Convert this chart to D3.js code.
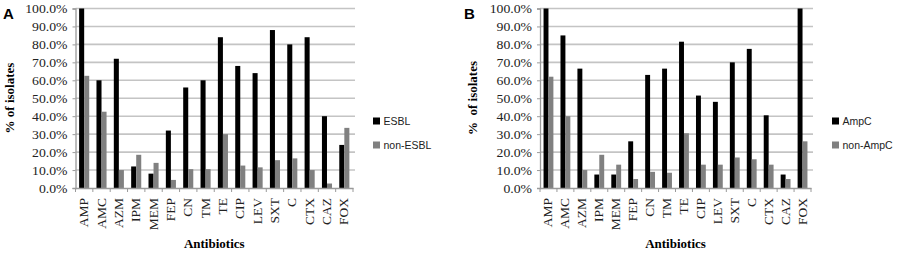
<!DOCTYPE html>
<html><head><meta charset="utf-8">
<script src="https://cdn.jsdelivr.net/npm/d3@7"></script>
<style>body{margin:0;background:#fff}svg{display:block}
.serif{font-family:"Times New Roman","Liberation Serif",Times,serif}
.sans{font-family:"Liberation Sans",Arial,sans-serif}</style>
</head><body>
<svg id="c" width="900" height="253"></svg>
<script>
const antibiotics = ["AMP","AMC","AZM","IPM","MEM","FEP","CN","TM","TE","CIP","LEV","SXT","C","CTX","CAZ","FOX"];
const esbl    = [100, 60, 72, 12, 8, 32, 56, 60, 84, 68, 64, 88, 80, 84, 40, 24];
const nonEsbl = [62.5, 42.5, 10, 18.5, 14, 4.5, 10.5, 10.5, 30, 12.5, 11.5, 15.5, 16.5, 10, 2.5, 33.5];
const ampc    = [100, 85, 66.5, 7.5, 7.5, 26, 63, 66.5, 81.5, 51.5, 48, 70, 77.5, 40.5, 7.5, 100];
const nonAmpc = [62, 40, 10, 18.5, 13, 5, 9, 8.5, 30.5, 13, 13, 17, 16, 13, 5, 26];
const yTicks = [0,10,20,30,40,50,60,70,80,90,100];
const panelA = {letter:"A", series:["ESBL","non-ESBL"], values:[esbl, nonEsbl], yTitle:"% of isolates"};
const panelB = {letter:"B", series:["AmpC","non-AmpC"], values:[ampc, nonAmpc], yTitle:"%  of isolates"};

const svg = d3.select("#c");
const colors = ["#000000", "#808080"];

function drawPanel(p, L) {
  const g = svg.append("g");
  const x = d3.scaleBand().domain(antibiotics).range([L.x0, L.x1]).padding(0);
  const xs = d3.scaleBand().domain(p.series).range([0, x.bandwidth()]).paddingOuter(0.72).paddingInner(0);
  const y = d3.scaleLinear().domain([0, 100]).range([188, 8.5]);

  g.append("g").selectAll("line").data(yTicks.filter(t => t > 0)).join("line")
    .attr("x1", L.x0).attr("x2", L.x1 + 2)
    .attr("y1", d => y(d)).attr("y2", d => y(d))
    .attr("stroke", "#c4c4c4").attr("stroke-width", 1.6);

  const ya = g.append("g").attr("transform", `translate(${L.x0},0)`)
    .call(d3.axisLeft(y).tickValues(yTicks).tickSize(3).tickPadding(8).tickFormat(d => d.toFixed(1) + "%"));
  ya.attr("font-family", null);
  ya.select(".domain").attr("stroke", "#9a9a9a").attr("stroke-width", 1.3);
  ya.selectAll(".tick line").attr("stroke", "#9a9a9a");
  ya.selectAll(".tick text").attr("class", "serif")
    .attr("font-size", 12.5).attr("fill", "#222").attr("transform", "scale(1.1,1)")
    .attr("x", -8 / 1.1);

  p.series.forEach((s, si) => {
    g.append("g").selectAll("rect").data(p.values[si]).join("rect")
      .attr("x", (d, i) => x(antibiotics[i]) + xs(s))
      .attr("width", xs.bandwidth())
      .attr("y", d => y(d))
      .attr("height", d => y(0) - y(d))
      .attr("fill", colors[si]);
  });

  const xa = g.append("g").attr("transform", "translate(0,188)")
    .call(d3.axisBottom(x).tickSize(0).tickPadding(0));
  xa.attr("font-family", null);
  xa.select(".domain").attr("stroke", "#9a9a9a").attr("stroke-width", 1.3);
  xa.selectAll(".tick text").attr("class", "serif")
    .attr("font-size", 13.5).attr("fill", "#222")
    .attr("text-anchor", "end").attr("transform", "translate(4,10) rotate(-90)").attr("dy", 0).attr("y", 0);
  g.append("g").selectAll("line").data(d3.range(antibiotics.length + 1)).join("line")
    .attr("x1", i => L.x0 + i * x.step()).attr("x2", i => L.x0 + i * x.step())
    .attr("y1", 188).attr("y2", 192).attr("stroke", "#9a9a9a");

  g.append("text").attr("class", "serif").attr("transform", `translate(${L.yt},98) rotate(-90)`).attr("text-anchor", "middle")
    .attr("font-weight", "bold").attr("font-size", 13).style("white-space", "pre").text(p.yTitle);
  g.append("text").attr("class", "serif").attr("x", (L.x0 + L.x1) / 2).attr("y", 248).attr("text-anchor", "middle")
    .attr("font-weight", "bold").attr("font-size", 13).text("Antibiotics");

  g.append("text").attr("class", "sans").attr("x", L.lx).attr("y", 19)
    .attr("font-weight", "bold").attr("font-size", 15).text(p.letter);

  const lg = g.append("g").selectAll("g").data(p.series).join("g")
    .attr("transform", (d, i) => `translate(${L.legX},${121 + i * 24})`);
  lg.append("rect").attr("x", 0).attr("y", -3.5).attr("width", 7).attr("height", 7).attr("fill", (d, i) => colors[i]);
  lg.append("text").attr("class", "sans").attr("x", 10.5).attr("y", 4)
    .attr("font-size", 10.5).attr("fill", "#222").text(d => d);
}

drawPanel(panelA, {x0: 75.5, x1: 353, yt: 14, lx: 3, legX: 373});
drawPanel(panelB, {x0: 540, x1: 811, yt: 477, lx: 464, legX: 832});
</script>
</body></html>
